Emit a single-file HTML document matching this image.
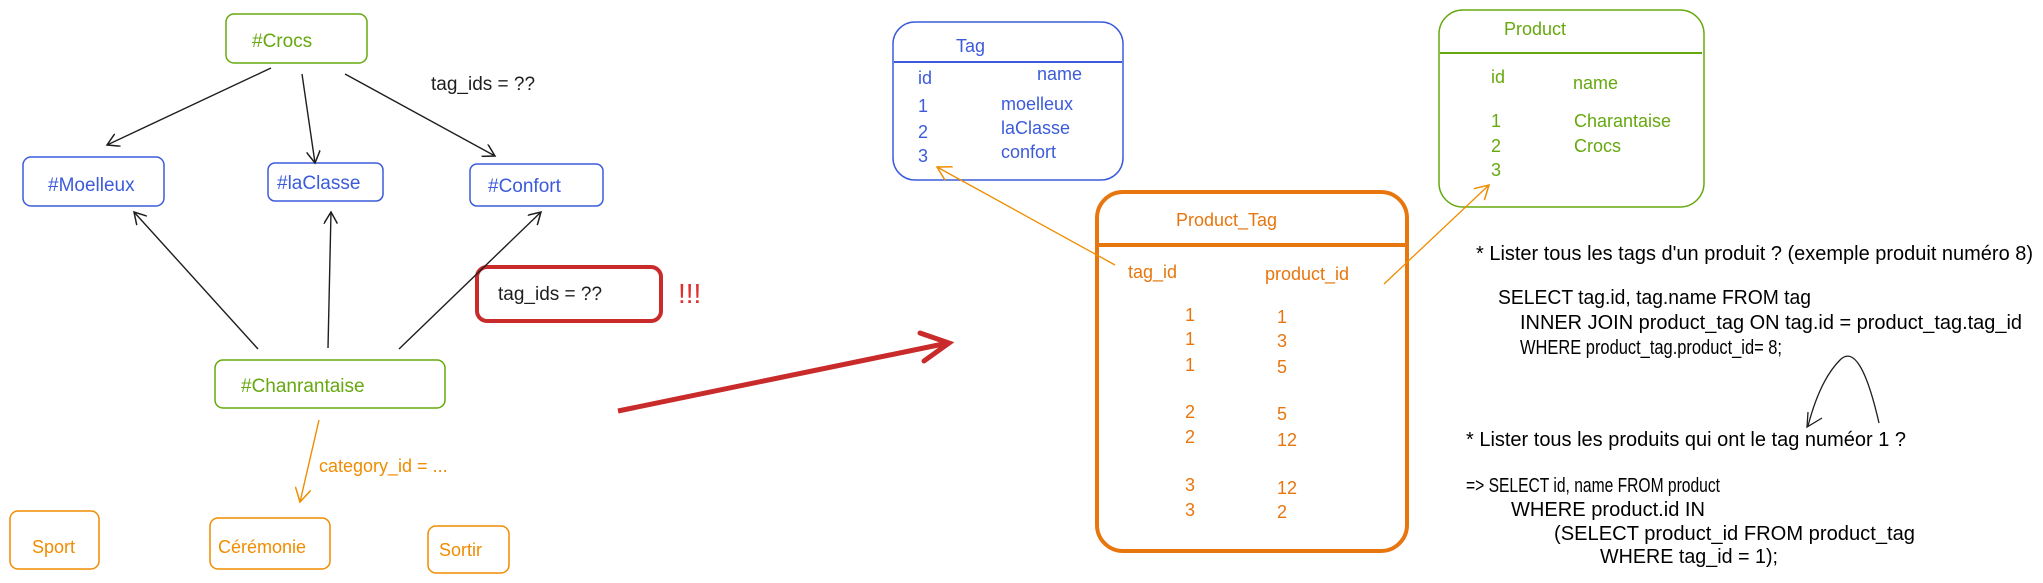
<!DOCTYPE html>
<html><head><meta charset="utf-8"><style>
html,body{margin:0;padding:0;background:#fff;}
svg{display:block;}
.h{font-family:"Liberation Sans",sans-serif;}
.s{font-family:"Liberation Sans Narrow","Liberation Sans",sans-serif;font-size:20px;fill:#000;}
</style></head><body>
<svg width="2043" height="583" viewBox="0 0 2043 583" xmlns="http://www.w3.org/2000/svg">
<defs>
<marker id="ak" markerWidth="14" markerHeight="14" refX="12" refY="7" orient="auto" markerUnits="userSpaceOnUse"><path d="M0,0 L12,7 L0,14" fill="none" stroke="#1e1e1e" stroke-width="1.5"/></marker>
<marker id="ao" markerWidth="16" markerHeight="16" refX="14" refY="8" orient="auto" markerUnits="userSpaceOnUse"><path d="M0,0 L14,8 L0,16" fill="none" stroke="#f08c00" stroke-width="1.5"/></marker>
</defs>
<g class="h" font-size="19">
<!-- top nodes -->
<rect x="226" y="14" width="141" height="49" rx="8" fill="none" stroke="#66a80f" stroke-width="1.5"/>
<text x="252" y="47" fill="#66a80f">#Crocs</text>
<rect x="23" y="157" width="141" height="49" rx="8" fill="none" stroke="#3b5bdb" stroke-width="1.5"/>
<text x="48" y="191" fill="#3b5bdb">#Moelleux</text>
<rect x="268" y="163" width="115" height="38" rx="7" fill="none" stroke="#3b5bdb" stroke-width="1.5"/>
<text x="277" y="189" fill="#3b5bdb">#laClasse</text>
<rect x="470" y="164" width="133" height="42" rx="7" fill="none" stroke="#3b5bdb" stroke-width="1.5"/>
<text x="488" y="192" fill="#3b5bdb">#Confort</text>
<text x="431" y="90" fill="#1e1e1e">tag_ids = ??</text>
<rect x="477" y="267" width="184" height="54" rx="10" fill="none" stroke="#c92a2a" stroke-width="4"/>
<text x="498" y="300" fill="#1e1e1e">tag_ids = ??</text>
<text x="678" y="303" fill="#e03131" font-size="28">!!!</text>
<rect x="215" y="360" width="230" height="48" rx="8" fill="none" stroke="#66a80f" stroke-width="1.5"/>
<text x="241" y="392" fill="#66a80f">#Chanrantaise</text>
<!-- arrows -->
<g stroke="#1e1e1e" stroke-width="1.4" fill="none" marker-end="url(#ak)">
<line x1="271" y1="68" x2="107" y2="145"/>
<line x1="302" y1="74" x2="315" y2="163"/>
<line x1="345" y1="74" x2="495" y2="156"/>
<line x1="258" y1="349" x2="134" y2="212"/>
<line x1="328" y1="348" x2="331" y2="212"/>
<line x1="399" y1="349" x2="541" y2="212"/>
</g>
<line x1="319" y1="420" x2="300" y2="502" stroke="#f08c00" stroke-width="1.4" marker-end="url(#ao)"/>
<text x="319" y="472" fill="#f08c00" font-size="18">category_id = ...</text>
<rect x="10" y="511" width="89" height="58" rx="8" fill="none" stroke="#f08c00" stroke-width="1.5"/>
<text x="32" y="553" fill="#f08c00" font-size="18">Sport</text>
<rect x="210" y="518" width="120" height="51" rx="8" fill="none" stroke="#f08c00" stroke-width="1.5"/>
<text x="218" y="553" fill="#f08c00" font-size="18">Cérémonie</text>
<rect x="428" y="526" width="81" height="47" rx="8" fill="none" stroke="#f08c00" stroke-width="1.5"/>
<text x="439" y="556" fill="#f08c00" font-size="18">Sortir</text>
<!-- big red arrow -->
<line x1="618" y1="411" x2="948" y2="343" stroke="#c92a2a" stroke-width="5"/>
<path d="M920,333 L949,343 L924,361" fill="none" stroke="#c92a2a" stroke-width="5" stroke-linecap="round"/>
<!-- Tag table -->
<rect x="893" y="22" width="230" height="158" rx="22" fill="none" stroke="#3b5bdb" stroke-width="1.5"/>
<line x1="894" y1="62" x2="1122" y2="62" stroke="#3b5bdb" stroke-width="2"/>
<g fill="#3b5bdb" font-size="18">
<text x="956" y="52">Tag</text>
<text x="918" y="84">id</text><text x="1037" y="80">name</text>
<text x="918" y="112">1</text><text x="1001" y="110">moelleux</text>
<text x="918" y="138">2</text><text x="1001" y="134">laClasse</text>
<text x="918" y="162">3</text><text x="1001" y="158">confort</text>
</g>
<!-- Product table -->
<rect x="1439" y="10" width="265" height="197" rx="24" fill="none" stroke="#66a80f" stroke-width="1.5"/>
<line x1="1440" y1="53" x2="1702" y2="53" stroke="#66a80f" stroke-width="2"/>
<g fill="#66a80f" font-size="18">
<text x="1504" y="35">Product</text>
<text x="1491" y="83">id</text><text x="1573" y="89">name</text>
<text x="1491" y="127">1</text><text x="1574" y="127">Charantaise</text>
<text x="1491" y="152">2</text><text x="1574" y="152">Crocs</text>
<text x="1491" y="176">3</text>
</g>
<!-- Product_Tag -->
<rect x="1097" y="192" width="310" height="359" rx="26" fill="none" stroke="#e8760e" stroke-width="4"/>
<line x1="1098" y1="245" x2="1405" y2="245" stroke="#e8760e" stroke-width="4"/>
<g fill="#e8760e" font-size="18">
<text x="1176" y="226">Product_Tag</text>
<text x="1128" y="278">tag_id</text><text x="1265" y="280">product_id</text>
<text x="1185" y="321">1</text><text x="1277" y="323">1</text>
<text x="1185" y="345">1</text><text x="1277" y="347">3</text>
<text x="1185" y="371">1</text><text x="1277" y="373">5</text>
<text x="1185" y="418">2</text><text x="1277" y="420">5</text>
<text x="1185" y="443">2</text><text x="1277" y="446">12</text>
<text x="1185" y="491">3</text><text x="1277" y="494">12</text>
<text x="1185" y="516">3</text><text x="1277" y="518">2</text>
</g>
<line x1="1115" y1="265" x2="937" y2="167" stroke="#f08c00" stroke-width="1.3" marker-end="url(#ao)"/>
<line x1="1384" y1="284" x2="1489" y2="185" stroke="#f08c00" stroke-width="1.3" marker-end="url(#ao)"/>
</g>
<!-- SQL -->
<g class="s">
<text x="1476" y="260" textLength="557" lengthAdjust="spacingAndGlyphs">* Lister tous les tags d'un produit ? (exemple produit numéro 8)</text>
<text x="1498" y="304" textLength="313" lengthAdjust="spacingAndGlyphs">SELECT tag.id, tag.name FROM tag</text>
<text x="1520" y="329" textLength="502" lengthAdjust="spacingAndGlyphs">INNER JOIN product_tag ON tag.id = product_tag.tag_id</text>
<text x="1520" y="354" textLength="262" lengthAdjust="spacingAndGlyphs">WHERE product_tag.product_id= 8;</text>
<text x="1466" y="446" textLength="440" lengthAdjust="spacingAndGlyphs">* Lister tous les produits qui ont le tag numéor 1 ?</text>
<text x="1466" y="492" textLength="254" lengthAdjust="spacingAndGlyphs">=&gt; SELECT id, name FROM product</text>
<text x="1511" y="516" textLength="194" lengthAdjust="spacingAndGlyphs">WHERE product.id IN</text>
<text x="1554" y="540" textLength="361" lengthAdjust="spacingAndGlyphs">(SELECT product_id FROM product_tag</text>
<text x="1600" y="563" textLength="178" lengthAdjust="spacingAndGlyphs">WHERE tag_id = 1);</text>
</g>
<path d="M1879,423 Q1860,340 1840,360 Q1820,380 1808,426" fill="none" stroke="#1e1e1e" stroke-width="1.3"/>
<path d="M1808,412 L1807,427 L1822,418" fill="none" stroke="#1e1e1e" stroke-width="1.3"/>
</svg>
</body></html>
